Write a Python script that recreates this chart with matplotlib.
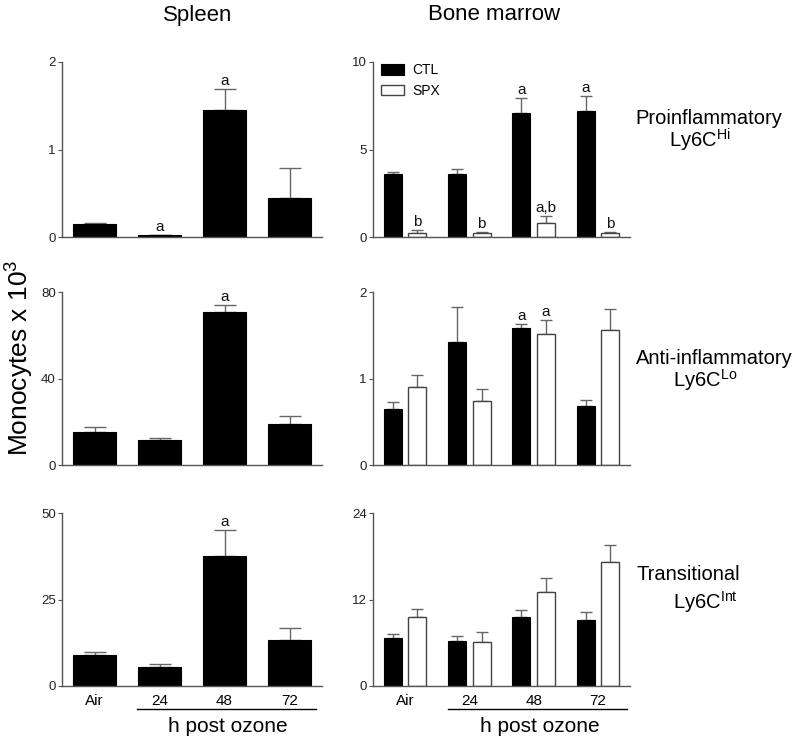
import matplotlib
matplotlib.use("Agg")
import matplotlib.pyplot as plt
import numpy as np

plt.rcParams['font.family'] = ['Liberation Sans', 'DejaVu Sans']
plt.rcParams['mathtext.default'] = 'regular'

# ---------------- data ----------------
groups = ["Air", "24", "48", "72"]

# Spleen (single series)
spleen_hi = [0.15, 0.02, 1.45, 0.45]
spleen_hi_err = [0.01, 0.005, 0.24, 0.34]
spleen_hi_lab = ["", "a", "a", ""]

spleen_lo = [15.1, 11.5, 70.8, 18.8]
spleen_lo_err = [2.4, 1.1, 3.4, 4.0]
spleen_lo_lab = ["", "", "a", ""]

spleen_int = [9.1, 5.5, 37.7, 13.2]
spleen_int_err = [0.7, 1.0, 7.3, 3.7]
spleen_int_lab = ["", "", "a", ""]

# Bone marrow (CTL vs SPX)
bm_hi_ctl = [3.60, 3.58, 7.10, 7.19]
bm_hi_ctl_err = [0.11, 0.32, 0.84, 0.89]
bm_hi_spx = [0.25, 0.21, 0.79, 0.25]
bm_hi_spx_err = [0.13, 0.06, 0.42, 0.04]
bm_hi_ctl_lab = ["", "", "a", "a"]
bm_hi_spx_lab = ["b", "b", "a,b", "b"]

bm_lo_ctl = [0.646, 1.42, 1.585, 0.685]
bm_lo_ctl_err = [0.077, 0.41, 0.045, 0.061]
bm_lo_spx = [0.90, 0.742, 1.52, 1.56]
bm_lo_spx_err = [0.14, 0.135, 0.16, 0.24]
bm_lo_ctl_lab = ["", "", "a", ""]
bm_lo_spx_lab = ["", "", "a", ""]

bm_int_ctl = [6.7, 6.18, 9.6, 9.22]
bm_int_ctl_err = [0.5, 0.77, 1.0, 1.11]
bm_int_spx = [9.56, 6.13, 13.1, 17.2]
bm_int_spx_err = [1.14, 1.31, 1.9, 2.4]
bm_int_ctl_lab = ["", "", "", ""]
bm_int_spx_lab = ["", "", "", ""]

row_ylims = [(2, [0, 1, 2]), (80, [0, 40, 80]), (50, [0, 25, 50])]
bm_ylims = [(10, [0, 5, 10]), (2, [0, 1, 2]), (24, [0, 12, 24])]

# ---------------- figure ----------------
W, H = 800, 741
fig = plt.figure(figsize=(W / 100, H / 100), dpi=100)

rows_px = [(62, 237), (292, 465), (513, 686)]
left_px = (62, 322)
right_px = (373, 630)

spine_c = "#555555"
err_c = "#666666"


def make_ax(xpx, ypx):
    x0, x1 = xpx
    y0, y1 = ypx
    ax = fig.add_axes([x0 / W, 1 - y1 / H, (x1 - x0) / W, (y1 - y0) / H])
    for s in ["top", "right"]:
        ax.spines[s].set_visible(False)
    for s in ["left", "bottom"]:
        ax.spines[s].set_color(spine_c)
        ax.spines[s].set_linewidth(1.0)
    ax.tick_params(axis="y", colors="#222222", labelsize=9.5, length=3,
                   width=0.8, pad=1.5)
    ax.tick_params(axis="y", color=spine_c)
    ax.tick_params(axis="x", length=0, labelsize=11, pad=6)
    ax.set_xlim(-0.5, 3.5)
    return ax


def annotate(ax, xs, tops, labs, ymax, fs=11):
    for x, t, l in zip(xs, tops, labs):
        if l:
            ax.text(x, t + ymax * 0.005, l, ha="center", va="bottom",
                    fontsize=fs, color="#111111")


spleen_data = [(spleen_hi, spleen_hi_err, spleen_hi_lab),
               (spleen_lo, spleen_lo_err, spleen_lo_lab),
               (spleen_int, spleen_int_err, spleen_int_lab)]
bm_data = [(bm_hi_ctl, bm_hi_ctl_err, bm_hi_spx, bm_hi_spx_err, bm_hi_ctl_lab, bm_hi_spx_lab),
           (bm_lo_ctl, bm_lo_ctl_err, bm_lo_spx, bm_lo_spx_err, bm_lo_ctl_lab, bm_lo_spx_lab),
           (bm_int_ctl, bm_int_ctl_err, bm_int_spx, bm_int_spx_err, bm_int_ctl_lab, bm_int_spx_lab)]

x = np.arange(len(groups))
axes_left, axes_right = [], []
for r in range(3):
    # Spleen
    ax = make_ax(left_px, rows_px[r])
    vals, errs, labs = spleen_data[r]
    ymax, ticks = row_ylims[r]
    ax.bar(x, vals, width=0.66, color="black", edgecolor="black", linewidth=0.8, zorder=2)
    ax.errorbar(x, vals, yerr=[np.zeros(4), errs], fmt="none", ecolor=err_c,
                elinewidth=1.0, capsize=8, capthick=1.0, zorder=1)
    ax.set_ylim(0, ymax)
    ax.set_yticks(ticks)
    ax.set_yticklabels([str(t) for t in ticks])
    annotate(ax, x, np.array(vals) + np.array(errs), labs, ymax)
    axes_left.append(ax)

    # Bone marrow
    ax2 = make_ax(right_px, rows_px[r])
    c, ce, s, se, cl, sl = bm_data[r]
    ymax2, ticks2 = bm_ylims[r]
    off, bw = 0.19, 0.28
    ax2.bar(x - off, c, width=bw, color="black", edgecolor="black", linewidth=0.8,
            zorder=2, label="CTL")
    ax2.bar(x + off, s, width=bw, color="white", edgecolor="#444444", linewidth=1.0,
            zorder=2, label="SPX")
    ax2.errorbar(x - off, c, yerr=[np.zeros(4), ce], fmt="none", ecolor=err_c,
                 elinewidth=1.0, capsize=4, capthick=1.0, zorder=1)
    ax2.errorbar(x + off, s, yerr=[np.zeros(4), se], fmt="none", ecolor=err_c,
                 elinewidth=1.0, capsize=4, capthick=1.0, zorder=1)
    ax2.set_ylim(0, ymax2)
    ax2.set_yticks(ticks2)
    ax2.set_yticklabels([str(t) for t in ticks2])
    annotate(ax2, x - off, np.array(c) + np.array(ce), cl, ymax2)
    annotate(ax2, x + off, np.array(s) + np.array(se), sl, ymax2)
    axes_right.append(ax2)

for ax in axes_left[:2] + axes_right[:2]:
    ax.set_xticks([])
for ax in (axes_left[2], axes_right[2]):
    ax.set_xticks(x)
    ax.set_xticklabels(groups)

# legend
leg = axes_right[0].legend(loc="upper left", bbox_to_anchor=(0.0, 1.04), frameon=False,
                           fontsize=10, handlelength=1.6, handleheight=0.75,
                           handletextpad=0.6, labelspacing=0.45, borderaxespad=0.2)

# brackets and "h post ozone"
for ax, (x0, x1, xc) in ((axes_left[2], (0.65, 3.41, 2.05)),
                         (axes_right[2], (0.66, 3.46, 2.1))):
    ax.plot([x0, x1], [-0.133, -0.133], color="black", lw=1.0,
            transform=ax.get_xaxis_transform(), clip_on=False)
    ax.text(xc, -0.235, "h post ozone", transform=ax.get_xaxis_transform(),
            ha="center", va="center", fontsize=15)

# titles
fig.text(198 / W, 1 - 15 / H, "Spleen", ha="center", va="center", fontsize=16)
fig.text(494 / W, 1 - 15 / H, "Bone marrow", ha="center", va="center", fontsize=16)

# row labels
fig.text(709 / W, 1 - 118 / H, "Proinflammatory", ha="center", va="center", fontsize=14.5)
fig.text(700 / W, 1 - 140 / H, "Ly6C$^{Hi}$", ha="center", va="center", fontsize=14.5)
fig.text(714 / W, 1 - 358 / H, "Anti-inflammatory", ha="center", va="center", fontsize=14.5)
fig.text(705 / W, 1 - 380 / H, "Ly6C$^{Lo}$", ha="center", va="center", fontsize=14.5)
fig.text(688 / W, 1 - 575 / H, "Transitional", ha="center", va="center", fontsize=14.5)
fig.text(705 / W, 1 - 602 / H, "Ly6C$^{Int}$", ha="center", va="center", fontsize=14.5)

# y label
fig.text(20 / W, 1 - 358 / H, "Monocytes x 10$^{3}$", rotation=90, ha="center",
         va="center", fontsize=19)

fig.savefig("out.png", dpi=100)
